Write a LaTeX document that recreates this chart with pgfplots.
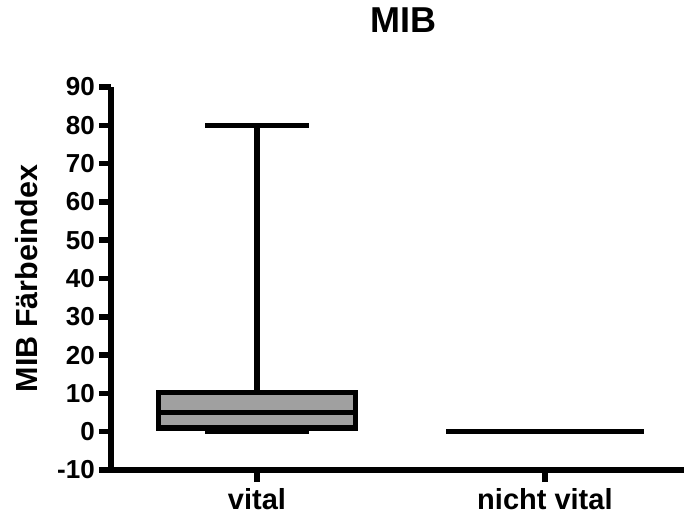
\documentclass[border=0pt]{standalone}
\usepackage{pgfplots}
\pgfplotsset{compat=1.18}
\usepackage{fontspec}
\setmainfont{Liberation Sans}
\definecolor{boxgray}{RGB}{160,160,160}
\begin{document}
\begin{tikzpicture}
\begin{axis}[
  name=ax,
  scale only axis,
  width=573bp, height=383bp,
  xmin=0.493, xmax=2.483,
  ymin=-10, ymax=90,
  ytick={-10,0,10,20,30,40,50,60,70,80,90},
  xtick={1,2},
  xticklabels={vital, nicht vital},
  axis x line*=bottom,
  axis y line*=left,
  axis line style={line width=5.5bp, -},
  tick align=outside,
  major tick length=12bp,
  tick style={line width=5.5bp, black},
  /pgf/number format/assume math mode=true,
  yticklabel style={font=\fontsize{26bp}{30bp}\selectfont\bfseries, anchor=east, inner sep=0pt, xshift=-4bp},
  xticklabel style={font=\fontsize{29bp}{32bp}\selectfont\bfseries, anchor=base, inner sep=0pt, yshift=-27bp},
  title={MIB},
  title style={font=\fontsize{36bp}{40bp}\selectfont\bfseries, at={(axis description cs:0.5,1)}, anchor=base, yshift=49bp, xshift=6bp},
  ylabel={MIB Färbeindex},
  every axis y label/.style={at={(axis description cs:-0.148,0.5)}, rotate=90, anchor=center, font=\fontsize{30.5bp}{34bp}\selectfont\bfseries},
  clip=false,
  unbounded coords=jump,
]
% vital: whiskers (0 .. 80), box (1 .. 10.2), median 5
\addplot[no marks, draw=black, line width=5.5bp] coordinates {
  (1,1) (1,0) (nan,nan) (0.82,0) (1.18,0) (nan,nan)
  (1,10.2) (1,80) (nan,nan) (0.82,80) (1.18,80)};
\addplot[no marks, draw=black, fill=boxgray, line width=5.5bp] coordinates {
  (0.6575,1) (1.3425,1) (1.3425,10.2) (0.6575,10.2)} -- cycle;
\addplot[no marks, draw=black, line width=5.5bp] coordinates {(0.6575,5) (1.3425,5)};
% nicht vital: all values 0
\addplot[no marks, draw=black, line width=5.5bp] coordinates {(1.6575,0) (2.3425,0)};
\end{axis}
\pgfresetboundingbox
\path (ax.south west) ++(-111bp,-46bp) rectangle ++(684bp,516bp);
\end{tikzpicture}
\end{document}
